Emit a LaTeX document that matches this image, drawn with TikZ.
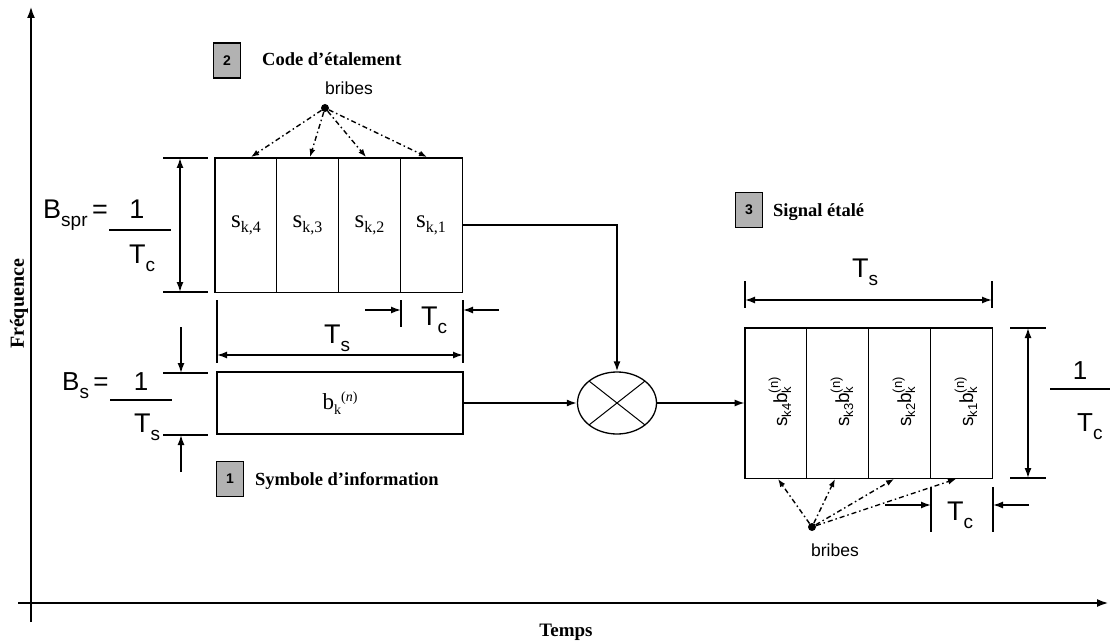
\documentclass[tikz,border=0pt]{standalone}
\usepackage{fontspec}
\setmainfont{Liberation Serif}
\newfontfamily\ar{Liberation Sans}
\usetikzlibrary{arrows.meta,shapes.geometric}
\newcommand{\fs}[1]{\fontsize{#1}{#1}\selectfont}
\newcommand{\bsub}[1]{\raisebox{-8pt}{\fs{19}#1}}
\newcommand{\csub}[1]{\raisebox{-5pt}{\fs{16}#1}}
\newcommand{\rsub}[1]{\raisebox{-4pt}{\fs{13}#1}}
\newcommand{\rsup}[1]{\raisebox{9pt}{\fs{13}#1}}
\begin{document}
\begin{tikzpicture}[x=1pt,y=-1pt,
  every node/.style={inner sep=0pt},
  cellT/.style={draw, line width=0.7pt, minimum width=61.75pt, minimum height=134pt, font=\fs{25}},
  cellS/.style={draw, line width=0.7pt, minimum width=61.75pt, minimum height=150pt},
  outer/.style={line width=1.3pt},
  conn/.style={line width=1.6pt, -{Latex[length=10pt,width=7pt]}},
  dimline/.style={line width=1.5pt, {Latex[length=10pt,width=7pt]}-{Latex[length=10pt,width=7pt]}},
  dimone/.style={line width=1.5pt, -{Latex[length=10pt,width=7pt]}},
  tick/.style={line width=1.3pt},
  big/.style={font=\ar\fs{27}, anchor=base west},
  rot/.style={rotate=90, font=\ar\fs{19}},
  bribe/.style={line width=1.4pt, dash pattern=on 5pt off 3pt on 1.5pt off 3pt, -{Latex[length=8pt,width=6pt]}},
  numbox/.style={draw, line width=1.2pt, fill=black!30, font=\ar\bfseries\fs{14}, minimum width=27pt, minimum height=35pt},
  title/.style={font=\bfseries\fs{18.5}, anchor=base west},
  axis/.style={line width=2.6pt, -{Latex[length=12pt,width=8pt]}}]
\useasboundingbox (0,0) rectangle (1110,644);

% axes
\coordinate (yb) at (31,622); \coordinate (yt) at (31,6);
\coordinate (xl) at (18,603); \coordinate (xr) at (1109,603);
\draw[axis] (yb) -- (yt);
\draw[axis] (xl) -- (xr);
\node[rotate=90, font=\bfseries\fs{20}] (freq) at (19,304) {Fréquence};
\node[font=\bfseries\fs{19}] (temps) at (566,632) {Temps};

% code box
\node[cellT] (c4) at (245.9,225) {s\csub{k,4}};
\node[cellT] (c3) at (307.6,225) {s\csub{k,3}};
\node[cellT] (c2) at (369.4,225) {s\csub{k,2}};
\node[cellT] (c1) at (431.1,225) {s\csub{k,1}};
\draw[outer] (c4.north west) rectangle (c1.south east);

% bit box
\node[draw, line width=1.3pt, minimum width=246pt, minimum height=62pt, font=\fs{23}] (bit) at (340,403)
  {b\raisebox{-5pt}{\fs{14}k}\raisebox{8pt}{\fs{14}(\textit{n})}};

% multiplier
\node[ellipse, draw, line width=1.3pt, minimum width=79pt, minimum height=62pt] (mult) at (617,403) {};
\draw[line width=1pt] ([shift={(-28,-22)}]mult.center) -- ([shift={(28,22)}]mult.center);
\draw[line width=1pt] ([shift={(-28,22)}]mult.center) -- ([shift={(28,-22)}]mult.center);

% spread box
\node[cellS] (r4) at (775.9,403) {};
\node[cellS] (r3) at (837.6,403) {};
\node[cellS] (r2) at (899.4,403) {};
\node[cellS] (r1) at (961.1,403) {};
\draw[outer] (r4.north west) rectangle (r1.south east);
\node[rot] (t4) at (780,402) {s\rsub{k4}b\rlap{\rsub{k}}\rsup{(n)}};
\node[rot] (t3) at (842,402) {s\rsub{k3}b\rlap{\rsub{k}}\rsup{(n)}};
\node[rot] (t2) at (904,402) {s\rsub{k2}b\rlap{\rsub{k}}\rsup{(n)}};
\node[rot] (t1) at (966,402) {s\rsub{k1}b\rlap{\rsub{k}}\rsup{(n)}};

% connectors
\draw[conn] (c1.east) -| (mult.north);
\draw[conn] (bit.east) -- (mult.west);
\draw[conn] (mult.east) -- (r4.west);

% labels
\node[numbox] (n2) at (227,60.5) {2};
\node[title] (t2lbl) at (262,66) {Code d’étalement};
\node[numbox] (n1) at (230,479) {1};
\node[title] (t1lbl) at (255,485) {Symbole d’information};
\node[numbox] (n3) at (749,210) {3};
\node[title] (t3lbl) at (773,217) {Signal étalé};

% bribes top
\node[font=\ar\fs{17.5}] (bribT) at (349,88) {bribes};
\node[circle, fill, minimum size=8pt] (dotT) at (325,108) {};
\coordinate (bt1) at (251,157); \coordinate (bt2) at (310,157);
\coordinate (bt3) at (366,157); \coordinate (bt4) at (427,157);
\foreach \p in {bt1,bt2,bt3,bt4} \draw[bribe] (dotT) -- (\p);

% bribes bottom
\node[font=\ar\fs{17.5}] (bribB) at (835,550) {bribes};
\node[circle, fill, minimum size=8pt] (dotB) at (812,527) {};
\coordinate (bb1) at (778,479); \coordinate (bb2) at (835,479);
\coordinate (bb3) at (894,479); \coordinate (bb4) at (956,479);
\foreach \p in {bb1,bb2,bb3,bb4} \draw[bribe] (dotB) -- (\p);

% left dimension B_spr
\coordinate (a1) at (163,158); \coordinate (a2) at (208,158);
\coordinate (a3) at (163,292); \coordinate (a4) at (208,292);
\draw[tick] (a1) -- (a2); \draw[tick] (a3) -- (a4);
\coordinate (a5) at (180,158); \coordinate (a6) at (180,292);
\draw[dimline] (a5) -- (a6);
\node[big] (bspr) at (43,219) {B\bsub{spr}\,=};
\node[font=\ar\fs{27}, anchor=base] (one1) at (137,219) {1};
\coordinate (f1a) at (109,230); \coordinate (f1b) at (171,230);
\draw[line width=1.3pt] (f1a) -- (f1b);
\node[big] (tc1) at (129,263) {T\bsub{c}};

% B_s dimension
\coordinate (b1) at (163,373); \coordinate (b2) at (208,373);
\coordinate (b3) at (163,435); \coordinate (b4) at (208,435);
\draw[tick] (b1) -- (b2); \draw[tick] (b3) -- (b4);
\coordinate (b5) at (181,327); \coordinate (b6) at (181,373);
\coordinate (b7) at (181,472); \coordinate (b8) at (181,435);
\draw[dimone] (b5) -- (b6); \draw[dimone] (b7) -- (b8);
\node[big, font=\ar\fs{26}] (bs) at (62,390) {B\bsub{s}\,=};
\node[font=\ar\fs{26}, anchor=base] (one2) at (141,390) {1};
\coordinate (f2a) at (110,400); \coordinate (f2b) at (172,400);
\draw[line width=1.3pt] (f2a) -- (f2b);
\node[big] (ts1) at (134,432) {T\bsub{s}};

% middle Ts / Tc
\coordinate (m1) at (217,300); \coordinate (m2) at (217,363);
\coordinate (m3) at (463,300); \coordinate (m4) at (463,363);
\coordinate (m5) at (401,300); \coordinate (m6) at (401,327);
\draw[tick] (m1) -- (m2); \draw[tick] (m3) -- (m4); \draw[tick] (m5) -- (m6);
\coordinate (m7) at (217,355); \coordinate (m8) at (463,355);
\draw[dimline] (m7) -- (m8);
\coordinate (m9) at (365,310); \coordinate (m10) at (401,310);
\coordinate (m11) at (499,310); \coordinate (m12) at (463,310);
\draw[dimone] (m9) -- (m10); \draw[dimone] (m11) -- (m12);
\node[big] (ts2) at (324,343) {T\bsub{s}};
\node[big] (tc2) at (421,325) {T\bsub{c}};

% right Ts top
\coordinate (s1) at (745,281); \coordinate (s2) at (745,308);
\coordinate (s3) at (992,281); \coordinate (s4) at (992,308);
\draw[tick] (s1) -- (s2); \draw[tick] (s3) -- (s4);
\coordinate (s5) at (745,300); \coordinate (s6) at (992,300);
\draw[dimline] (s5) -- (s6);
\node[big] (ts3) at (852,277) {T\bsub{s}};

% right 1/Tc
\coordinate (q1) at (1010,328); \coordinate (q2) at (1046,328);
\coordinate (q3) at (1010,478); \coordinate (q4) at (1046,478);
\draw[tick] (q1) -- (q2); \draw[tick] (q3) -- (q4);
\coordinate (q5) at (1028,328); \coordinate (q6) at (1028,478);
\draw[dimline] (q5) -- (q6);
\node[font=\ar\fs{26}, anchor=base] (one3) at (1080,379) {1};
\coordinate (f3a) at (1050,389); \coordinate (f3b) at (1110,389);
\draw[line width=1.3pt] (f3a) -- (f3b);
\node[big, font=\ar\fs{26}] (tc3) at (1077,431) {T\bsub{c}};

% bottom Tc
\coordinate (p1) at (931,487); \coordinate (p2) at (931,532);
\coordinate (p3) at (993,487); \coordinate (p4) at (993,532);
\draw[tick] (p1) -- (p2); \draw[tick] (p3) -- (p4);
\coordinate (p5) at (885,505); \coordinate (p6) at (931,505);
\coordinate (p7) at (1029,505); \coordinate (p8) at (993,505);
\draw[dimone] (p5) -- (p6); \draw[dimone] (p7) -- (p8);
\node[big] (tc4) at (947,520) {T\bsub{c}};
\end{tikzpicture}
\end{document}
